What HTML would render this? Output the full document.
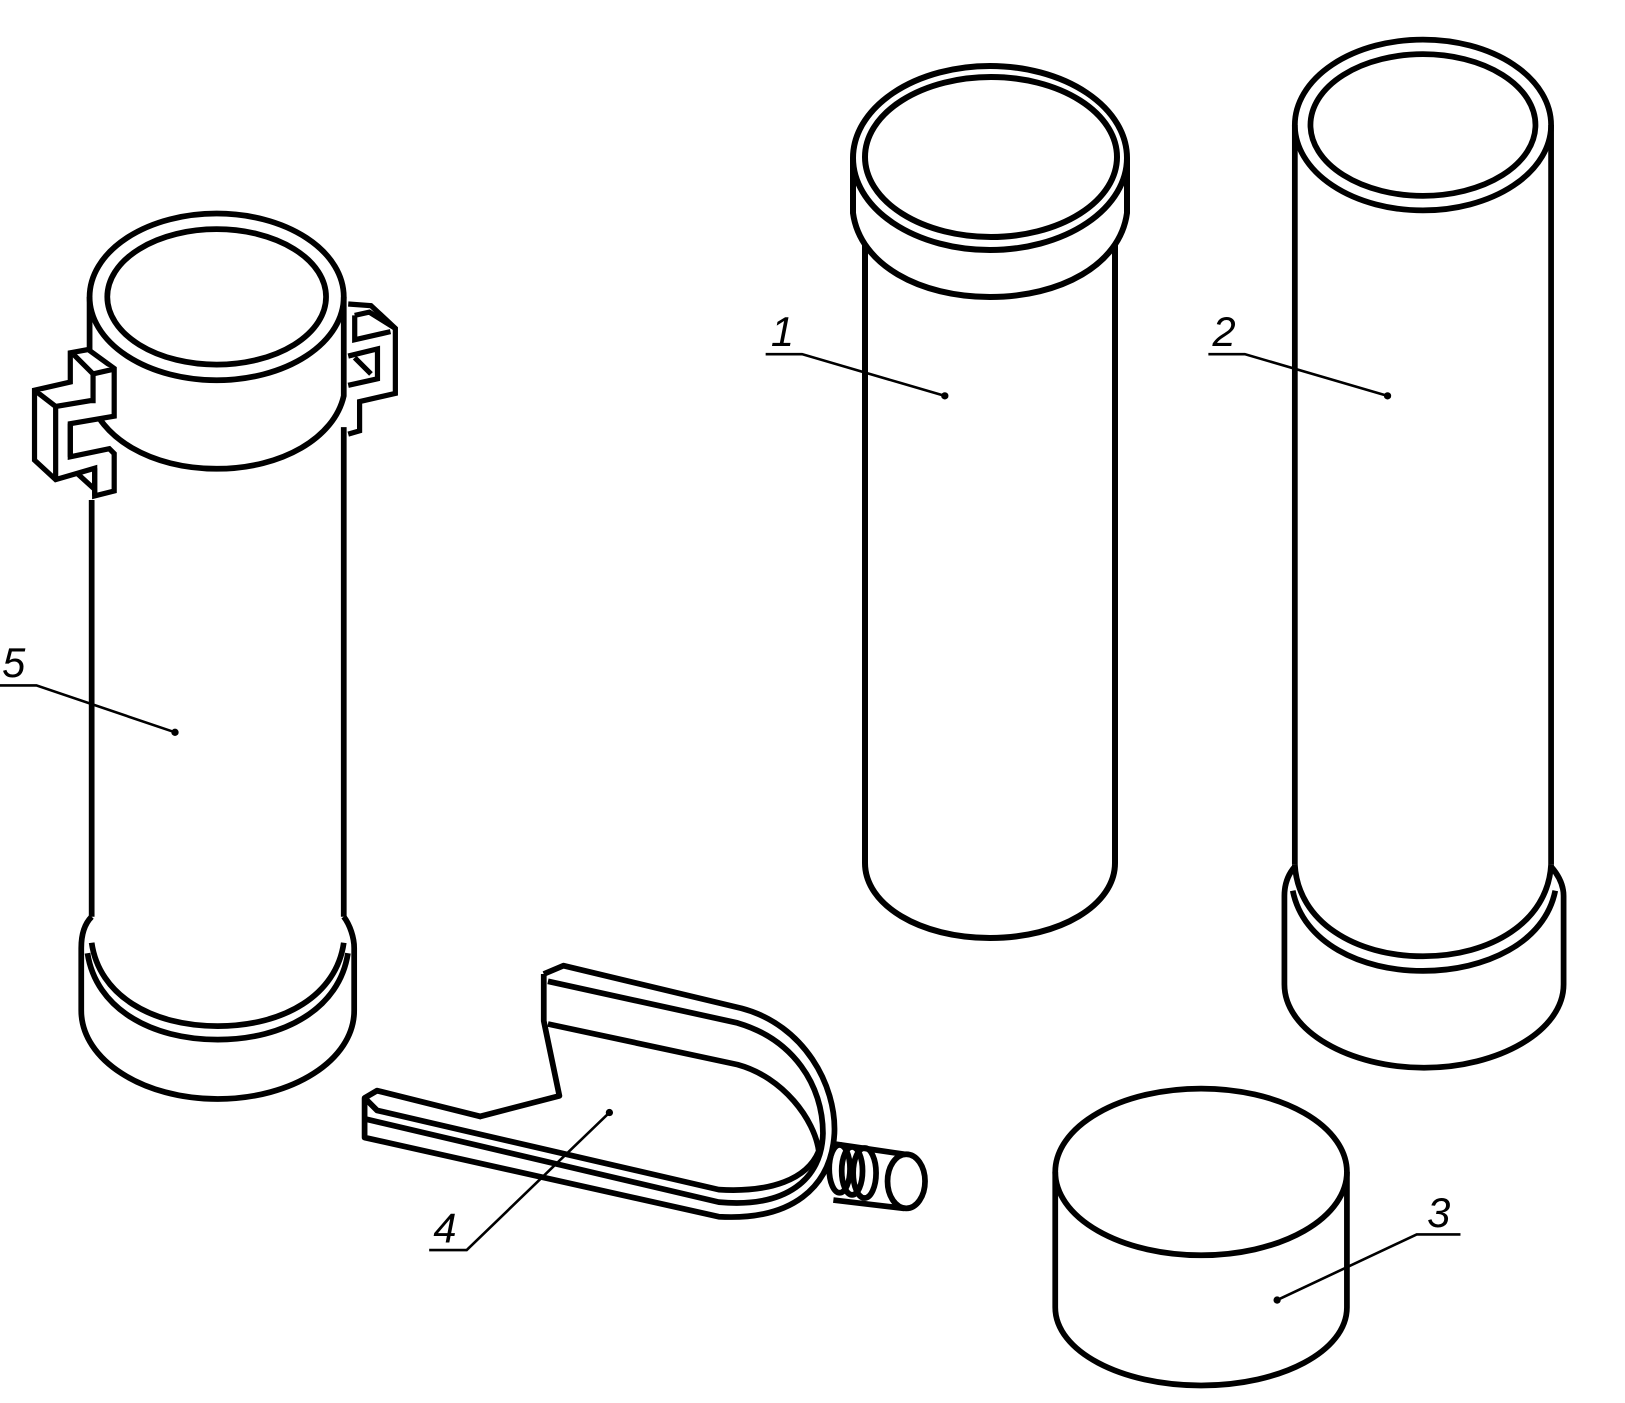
<!DOCTYPE html>
<html><head><meta charset="utf-8"><style>
html,body{margin:0;padding:0;background:#fff;}
svg{display:block;}
text{font-family:"Liberation Sans",sans-serif;font-style:italic;font-size:40px;fill:#000;}
</style></head><body>
<svg width="1625" height="1403" viewBox="0 0 1625 1403" xmlns="http://www.w3.org/2000/svg">
<g fill="none" stroke="#000" stroke-width="6" stroke-linejoin="round">
<ellipse cx="990" cy="158" rx="137" ry="92"/>
<ellipse cx="991" cy="157" rx="126" ry="80"/>
<path d="M853,158 L853,213 C860,265 920,297 990,297 C1060,297 1120,265 1127,213 L1127,158"/>
<path d="M865,245 L865,863 C865,905 920,938 990,938 C1060,938 1115,905 1115,863 L1115,245"/>
</g>
<g transform="scale(1.0417)" fill="none" stroke="#000" stroke-width="5.5" stroke-linejoin="round">
<ellipse cx="1366" cy="120" rx="123" ry="82"/>
<ellipse cx="1366" cy="120" rx="108" ry="68"/>
<path d="M1243,120 L1243,830"/>
<path d="M1489,120 L1489,830"/>
<path d="M1243,830 C1246,885 1301,918 1366,918 C1431,918 1486,885 1489,830"/>
<path d="M1243,832 C1236,840 1233,850 1233,860 L1233,945 C1233,990 1296,1025 1367,1025 C1438,1025 1501,990 1501,945 L1501,860 C1501,850 1496,840 1489,832"/>
<path d="M1241,855 C1251,905 1306,932 1366,932 C1426,932 1483,905 1493,855"/>
<ellipse cx="1153" cy="1125" rx="140" ry="80"/>
<path d="M1013,1125 L1013,1255 C1013,1297 1076,1330 1153,1330 C1230,1330 1293,1297 1293,1255 L1293,1125"/>
<ellipse cx="208" cy="285" rx="122" ry="80"/>
<ellipse cx="208" cy="285" rx="105" ry="65"/>
<path d="M86,285 L86,380 C95,420 145,450 208,450 C271,450 321,420 330,380 L330,285"/>
<path d="M88,480 L88,880"/>
<path d="M330,410 L330,880"/>
<path d="M88,880 C80,888 78,900 78,910 L78,970 C78,1018 138,1055 209,1055 C280,1055 340,1018 340,970 L340,910 C340,900 336,888 330,880"/>
<path d="M88,905 C95,955 145,985 209,985 C273,985 323,955 330,905"/>
<path d="M84,915 C92,968 145,998 209,998 C273,998 326,968 334,915"/>
<path d="M522,935 L541,927 L712,968 C772,984 803,1042 801,1088 C798,1140 760,1172 690,1168 L350,1092 L350,1054 L362,1047 L462,1072"/>
<path d="M526,942 L708,982 C762,998 790,1042 790,1088 C789,1132 755,1160 690,1154 L350,1074"/>
<path d="M522,935 L522,980 L537,1052 L460,1072"/>
<path d="M526,983 L708,1022 C752,1034 782,1075 786,1105 C775,1132 740,1145 690,1142 L362,1066 L350,1054"/>
<path d="M800,1098 L868,1108"/>
<path d="M800,1152 L868,1160"/>
<ellipse cx="870" cy="1134" rx="18" ry="26"/>
<ellipse cx="806" cy="1122" rx="10" ry="23"/>
<ellipse cx="818" cy="1124" rx="10" ry="23"/>
<ellipse cx="830" cy="1126" rx="11" ry="24"/>
</g>
<g transform="translate(2,291) scale(0.3252)" fill="#fff" stroke="#000" stroke-width="16" stroke-linejoin="miter">
<path d="M210,190 L265,180 L345,238 L345,385 L210,408 L210,510 L330,485 L345,500 L345,615 L285,630 L285,545 L165,580 L100,520 L100,305 L210,280 Z"/>
<path d="M100,305 L165,355 L285,335 M165,355 L165,580 M220,195 L280,255 L345,240 M280,255 L280,345 M210,408 L210,510 M285,545 L285,630 M230,560 L285,610"/>
</g>
<g transform="translate(10,291) scale(0.3252)" fill="#fff" stroke="#000" stroke-width="16" stroke-linejoin="miter">
<path d="M1040,40 L1110,45 L1185,115 L1185,315 L1075,340 L1075,430 L1040,440"/>
<path d="M1060,75 L1105,65 L1185,115 M1060,75 L1060,150 L1170,125 M1040,200 L1130,178 L1130,270 L1040,290 M1060,205 L1110,255" fill="none"/>
</g>
<g transform="scale(1.0417)" stroke="#000" stroke-width="2.5" fill="none">
<path d="M907,380 L770,340 L735,340"/>
<path d="M1332,380 L1195,340 L1160,340"/>
<path d="M1226,1248 L1360,1185 L1402,1185"/>
<path d="M585,1068 L448,1200 L412,1200"/>
<path d="M168,703 L35,658 L0,658"/>
</g>
<g transform="scale(1.0417)" fill="#000">
<circle cx="907" cy="380" r="3.5"/><circle cx="1332" cy="380" r="3.5"/>
<circle cx="1226" cy="1248" r="3.5"/><circle cx="585" cy="1068" r="3.5"/>
<circle cx="168" cy="703" r="3.5"/>
<text x="740" y="332">1</text>
<text x="1164" y="332">2</text>
<text x="1370" y="1178">3</text>
<text x="416" y="1193">4</text>
<text x="2" y="650">5</text>
</g>
</svg>
</body></html>
